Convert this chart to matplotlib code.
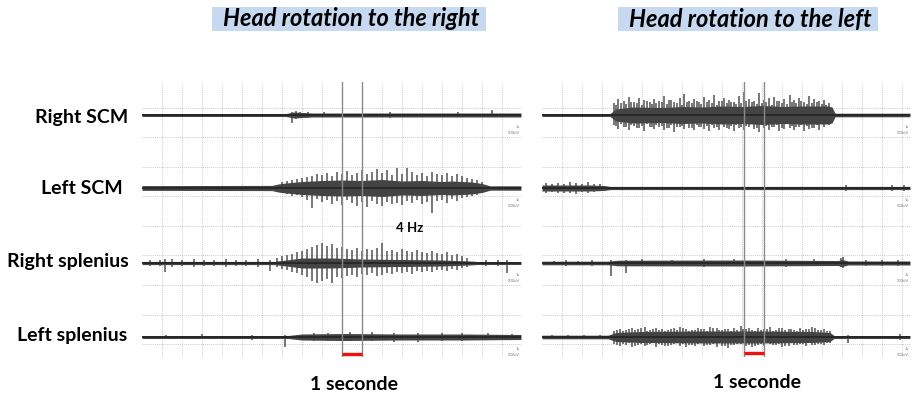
import matplotlib.pyplot as plt
from matplotlib.patches import Rectangle

plt.rcParams['font.family'] = ['Lato', 'DejaVu Sans']

# ---- row labels / titles
row_names = ["Right SCM", "Left SCM", "Right splenius", "Left splenius"]
titles = ["Head rotation to the right", "Head rotation to the left"]
baselines = [242, 169, 94, 20]   # trace baselines, px above bottom of panel

# ---- LEFT PANEL (head to the right), time in s, amplitude in px
L_RSCM_env_t = [0, 7.2, 7.6, 8.5, 18.95]
L_RSCM_env_w = [1.5, 1.5, 3, 2, 2]
L_RSCM_sp_t = [7.5, 7.7, 7.9, 8.3, 9.1, 12.4, 15.8, 17.5]
L_RSCM_sp_up = [3, 4, 3, 3, 3, 3, 3, 5]
L_RSCM_sp_dn = [8, 4, 3, 3, 2, 3, 2, 2]

L_LSCM_env_t = [0, 6.5, 6.8, 7.2, 8.0, 9.0, 10, 11, 12, 13, 14, 15, 15.5, 16.5, 17.0, 17.4, 18.95]
L_LSCM_env_w = [2.4, 2.6, 4, 5, 6.5, 7.5, 8, 7.5, 8.5, 7, 7.5, 6.5, 7, 6, 4.5, 2.2, 2.2]
L_LSCM_sp_t = [7.0, 7.25, 7.5, 7.75, 8.0, 8.25, 8.5, 8.75, 9.0, 9.25, 9.5, 9.75,
               10.0, 10.25, 10.5, 10.75, 11.0, 11.25, 11.5, 11.75, 12.0, 12.25, 12.5, 12.75,
               13.0, 13.25, 13.5, 13.75, 14.0, 14.25, 14.5, 14.75, 15.0, 15.25, 15.5, 15.75,
               16.0, 16.25, 16.5, 16.75, 17.0]
L_LSCM_sp_up = [6, 7, 8, 9, 10, 11, 12, 14, 13, 15, 12, 16, 14, 17, 13, 15, 18, 14, 16, 19,
                15, 18, 13, 20, 14, 20, 16, 13, 15, 12, 16, 14, 13, 15, 12, 14, 12, 10, 9, 8, 6]
L_LSCM_sp_dn = [5, 6, 8, 7, 9, 12, 20, 11, 14, 12, 16, 13, 17, 12, 15, 18, 14, 19, 13, 16,
                18, 14, 16, 15, 17, 13, 15, 12, 16, 14, 25, 13, 12, 15, 11, 13, 10, 9, 8, 7, 5]

L_RSPL_env_t = [0, 6.6, 7.2, 8, 9.5, 11, 13, 15, 16.4, 16.8, 18.95]
L_RSPL_env_w = [1.6, 1.6, 3, 5, 5, 4, 3.5, 3, 2, 1.5, 1.5]
L_RSPL_sp_t = [0.4, 0.9, 1.15, 1.5, 2.0, 2.6, 3.1, 3.6, 4.2, 4.7, 5.2, 5.8, 6.4,
               6.75, 7.0, 7.25, 7.5, 7.75, 8.0, 8.25, 8.5, 8.75, 9.0, 9.25, 9.5, 9.75,
               10.0, 10.25, 10.5, 10.75, 11.0, 11.25, 11.5, 11.75, 12.0, 12.25, 12.5, 12.75,
               13.0, 13.25, 13.5, 13.75, 14.0, 14.25, 14.5, 14.75, 15.0, 15.25, 15.5, 15.75,
               16.0, 16.25, 17.2, 17.8, 18.25]
L_RSPL_sp_up = [3, 3, 4, 4, 3, 4, 3, 3, 4, 3, 3, 4, 3,
                5, 7, 8, 9, 11, 12, 14, 16, 18, 20, 17, 19, 15, 16, 14, 13, 15, 12, 14, 13, 15,
                20, 12, 13, 11, 14, 12, 11, 13, 11, 10, 12, 10, 9, 11, 8, 9, 7, 5, 3, 3, 3]
L_RSPL_sp_dn = [3, 3, 9, 4, 3, 4, 3, 3, 4, 3, 3, 4, 8,
                4, 6, 7, 9, 10, 12, 14, 18, 20, 18, 16, 20, 14, 15, 13, 12, 14, 11, 12, 10, 13,
                12, 10, 11, 9, 10, 9, 11, 8, 9, 8, 9, 7, 7, 8, 6, 7, 5, 4, 3, 3, 10]

L_LSPL_env_t = [0, 7.3, 8.0, 10, 13, 16, 18.95]
L_LSPL_env_w = [1.5, 1.5, 3, 3.5, 3, 3, 2.5]
L_LSPL_sp_t = [1.2, 3.0, 5.5, 7.15, 8.6, 9.3, 10.4, 11.5, 12.6, 13.8, 15.0, 16.0, 17.3, 18.5]
L_LSPL_sp_up = [2, 3, 2, 2, 4, 4, 5, 5, 4, 4, 4, 4, 4, 3]
L_LSPL_sp_dn = [2, 2, 3, 10, 4, 4, 4, 4, 5, 5, 4, 4, 3, 3]

# ---- RIGHT PANEL (head to the left)
R_RSCM_env_t = [0, 3.4, 3.7, 4.5, 6, 7, 8, 9, 10, 11, 12, 13, 14.3, 14.5, 14.65, 18.4]
R_RSCM_env_w = [1.5, 1.5, 6, 8, 7.5, 8.5, 8, 9, 8.5, 9.5, 8.5, 9, 9, 8, 1.8, 1.8]
R_RSCM_sp_t = [3.6, 3.82, 4.1, 4.33, 4.6, 4.87, 5.1, 5.38, 5.6, 5.84, 6.12, 6.35, 6.6, 6.88,
               7.1, 7.36, 7.62, 7.85, 8.1, 8.37, 8.6, 8.86, 9.12, 9.35, 9.6, 9.85, 10.08, 10.36,
               10.6, 10.87, 11.1, 11.35, 11.62, 11.86, 12.1, 12.38, 12.6, 12.85, 13.1, 13.36,
               13.6, 13.86, 14.1, 14.35]
R_RSCM_sp_up = [12, 16, 14, 18, 13, 17, 15, 13, 16, 14, 19, 15, 13, 17, 21, 14,
                16, 13, 18, 15, 20, 14, 17, 15, 13, 19, 23, 16, 14, 22, 15, 17,
                18, 14, 16, 20, 15, 17, 13, 19, 16, 14, 15, 12]
R_RSCM_sp_dn = [10, 14, 12, 15, 11, 13, 16, 12, 14, 12, 15, 13, 17, 12, 14, 13,
                15, 12, 14, 16, 13, 15, 12, 14, 16, 13, 15, 12, 14, 17, 13, 15,
                12, 16, 14, 13, 15, 12, 16, 14, 13, 15, 12, 10]
R_RSCM_sp2_t = [3.71, 3.96, 4.21, 4.47, 4.73, 4.98, 5.24, 5.49, 5.72, 5.98, 6.23, 6.47, 6.74,
                6.99, 7.23, 7.49, 7.73, 7.97, 8.23, 8.48, 8.73, 8.99, 9.23, 9.47, 9.72, 9.96,
                10.22, 10.48, 10.73, 10.98, 11.22, 11.48, 11.74, 11.98, 12.24, 12.49, 12.72,
                12.97, 13.23, 13.48, 13.73, 13.98, 14.22]
R_RSCM_sp2_up = [10, 12, 11, 13, 12, 10, 14, 11, 12, 13, 11, 15, 12, 10, 13, 12, 14, 11, 13, 12,
                 10, 14, 12, 13, 11, 12, 14, 13, 11, 12, 13, 10, 14, 12, 11, 13, 12, 14, 11, 12,
                 13, 11, 10]
R_RSCM_sp2_dn = [11, 9, 12, 10, 13, 11, 9, 12, 10, 11, 13, 10, 12, 11, 9, 13, 10, 12, 11, 10,
                 12, 9, 13, 11, 10, 12, 11, 9, 13, 10, 11, 12, 10, 13, 9, 11, 12, 10, 11, 13,
                 10, 9, 8]

R_LSCM_env_t = [0, 2.4, 3.1, 3.4, 18.4]
R_LSCM_env_w = [3, 3, 2.5, 1.6, 1.6]
R_LSCM_sp_t = [0.2, 0.5, 0.8, 1.1, 1.4, 1.7, 2.0, 2.3, 2.6, 2.9, 15.2, 17.5, 18.1]
R_LSCM_sp_up = [5, 4, 5, 4, 6, 5, 4, 6, 4, 4, 3, 3, 3]
R_LSCM_sp_dn = [5, 4, 5, 5, 5, 6, 4, 5, 4, 3, 3, 3, 3]

R_RSPL_env_t = [0, 3.3, 3.8, 10, 14.8, 15.0, 15.3, 18.4]
R_RSPL_env_w = [1.8, 1.8, 2.8, 3, 2.5, 3.5, 2, 2]
R_RSPL_sp_t = [0.6, 1.2, 1.8, 2.5, 3.45, 4.2, 5.0, 6.5, 8.1, 9.6, 12.2, 13.6,
               14.95, 15.05, 16.2, 17.0, 17.8]
R_RSPL_sp_up = [2, 3, 2, 3, 3, 3, 4, 3, 4, 4, 4, 4, 5, 6, 3, 3, 3]
R_RSPL_sp_dn = [2, 3, 2, 3, 13, 10, 3, 3, 4, 3, 4, 3, 4, 5, 3, 3, 3]

R_LSPL_env_t = [0, 3.3, 3.7, 5, 8, 11, 13.5, 14.4, 14.6, 18.4]
R_LSPL_env_w = [1.8, 1.8, 4.5, 5.5, 6, 6, 5.5, 4.5, 1.5, 1.5]
R_LSPL_sp_t = [0.5, 1.3, 2.1, 2.9,
               3.6, 3.92, 4.2, 4.48, 4.8, 5.13, 5.4, 5.68, 6.0, 6.32, 6.6, 6.88, 7.2, 7.52,
               7.8, 8.08, 8.4, 8.73, 9.0, 9.28, 9.6, 9.93, 10.2, 10.48, 10.8, 11.12, 11.4,
               11.68, 12.0, 12.33, 12.6, 12.88, 13.2, 13.52, 13.8, 14.08, 14.4,
               15.3, 17.9]
R_LSPL_sp_up = [2, 2, 2, 2,
                6, 8, 7, 9, 8, 10, 7, 9, 8, 7, 9, 10, 8, 7, 9, 8, 10, 9, 7, 8,
                9, 11, 8, 7, 9, 8, 10, 7, 9, 8, 7, 9, 8, 10, 7, 8, 6,
                2, 3]
R_LSPL_sp_dn = [2, 2, 2, 2,
                7, 9, 8, 10, 8, 9, 7, 10, 8, 9, 7, 9, 10, 8, 7, 9, 8, 10, 9, 11,
                8, 7, 9, 10, 8, 9, 7, 8, 10, 9, 8, 7, 9, 8, 7, 8, 6,
                6, 3]
R_LSPL_sp2_t = [3.76, 4.06, 4.34, 4.64, 4.96, 5.26, 5.54, 5.84, 6.16, 6.46, 6.74, 7.04, 7.36,
                7.66, 7.94, 8.24, 8.56, 8.86, 9.14, 9.44, 9.76, 10.06, 10.34, 10.64, 10.96,
                11.26, 11.54, 11.84, 12.16, 12.46, 12.74, 13.04, 13.36, 13.66, 13.94, 14.24]
R_LSPL_sp2_up = [7, 6, 8, 7, 9, 6, 8, 7, 6, 8, 7, 9, 6, 7, 8, 6, 9, 7, 8, 6,
                 7, 8, 9, 6, 7, 8, 6, 9, 7, 8, 6, 7, 8, 9, 7, 6]
R_LSPL_sp2_dn = [8, 7, 6, 9, 7, 8, 6, 7, 9, 8, 6, 7, 8, 9, 6, 8, 7, 6, 9, 8,
                 7, 6, 8, 9, 7, 6, 8, 7, 9, 6, 8, 7, 6, 8, 7, 6]

left_traces = [
    (L_RSCM_env_t, L_RSCM_env_w, L_RSCM_sp_t, L_RSCM_sp_up, L_RSCM_sp_dn),
    (L_LSCM_env_t, L_LSCM_env_w, L_LSCM_sp_t, L_LSCM_sp_up, L_LSCM_sp_dn),
    (L_RSPL_env_t, L_RSPL_env_w, L_RSPL_sp_t, L_RSPL_sp_up, L_RSPL_sp_dn),
    (L_LSPL_env_t, L_LSPL_env_w, L_LSPL_sp_t, L_LSPL_sp_up, L_LSPL_sp_dn),
]
right_traces = [
    (R_RSCM_env_t, R_RSCM_env_w, R_RSCM_sp_t + R_RSCM_sp2_t,
     R_RSCM_sp_up + R_RSCM_sp2_up, R_RSCM_sp_dn + R_RSCM_sp2_dn),
    (R_LSCM_env_t, R_LSCM_env_w, R_LSCM_sp_t, R_LSCM_sp_up, R_LSCM_sp_dn),
    (R_RSPL_env_t, R_RSPL_env_w, R_RSPL_sp_t, R_RSPL_sp_up, R_RSPL_sp_dn),
    (R_LSPL_env_t, R_LSPL_env_w, R_LSPL_sp_t + R_LSPL_sp2_t,
     R_LSPL_sp_up + R_LSPL_sp2_up, R_LSPL_sp_dn + R_LSPL_sp2_dn),
]

# cursors (s) marking 1 second
left_cursor = [10.0, 11.0]
right_cursor = [10.1, 11.1]

W, H = 914, 398
fig = plt.figure(figsize=(W / 100, H / 100), dpi=100)


def panel(x0, width, t_max, traces, cursor, bar_y):
    ax = fig.add_axes([x0 / W, 41 / H, width / W, 275 / H])
    ax.set_xlim(0, t_max)
    ax.set_ylim(0, 275)
    ax.set_xticks(range(1, int(t_max) + 1))
    ax.set_yticks([13 + 29.5 * k for k in range(9)])
    ax.grid(True, ls=(0, (1, 1.5)), color='#b8b8b8', lw=0.6)
    ax.tick_params(length=0, labelbottom=False, labelleft=False)
    for s in ax.spines.values():
        s.set_visible(False)
    for base, (et, ew, st, su, sd) in zip(baselines, traces):
        lo = [base - w for w in ew]
        hi = [base + w for w in ew]
        ax.fill_between(et, lo, hi, color='#303030', alpha=0.9, lw=0, zorder=3)
        ax.axhline(base, color='#262626', lw=1.3, zorder=4)
        ax.vlines(st, [base - d for d in sd], [base + u for u in su],
                  color='#444444', lw=1.2, alpha=0.85, zorder=3)
        ax.text(t_max - 0.05, base - 12, "1s", fontsize=3, color='#777777', ha='right', va='center')
        ax.text(t_max - 0.05, base - 18, "500uV", fontsize=3, color='#777777', ha='right', va='center')
    for c in cursor:
        ax.axvline(c, color='#8a8a8a', lw=1.0, zorder=5)
    ax.plot(cursor, [bar_y, bar_y], color='#ee1111', lw=2.4, solid_capstyle='butt', zorder=6)
    return ax


panel(142, 379, 18.95, left_traces, left_cursor, 3)
panel(542, 368, 18.4, right_traces, right_cursor, 4)

# row labels
label_x = [128, 123, 129, 127]
label_y = [117, 189, 262, 335]
for name, lx, ly in zip(row_names, label_x, label_y):
    fig.text(lx / W, 1 - ly / H, name, ha='right', va='center', fontsize=14, fontweight='bold')

# titles in light blue boxes
boxes = [(212, 486), (618, 878)]
for t, (bx0, bx1) in zip(titles, boxes):
    fig.patches.append(Rectangle((bx0 / W, 1 - 31 / H), (bx1 - bx0) / W, 24 / H,
                                 transform=fig.transFigure, facecolor='#c6d9f0', edgecolor='none'))
    fig.text((bx0 + bx1) / 2 / W + 0.002, 1 - 19 / H, t, ha='center', va='center',
             fontsize=17, fontweight='bold', style='italic')

fig.text(410 / W, 1 - 228 / H, "4 Hz", ha='center', va='center', fontsize=9.5, fontweight='bold')
fig.text(354 / W, 1 - 385 / H, "1 seconde", ha='center', va='center', fontsize=14, fontweight='bold')
fig.text(757 / W, 1 - 382 / H, "1 seconde", ha='center', va='center', fontsize=14, fontweight='bold')

fig.savefig("out.png", dpi=100)
